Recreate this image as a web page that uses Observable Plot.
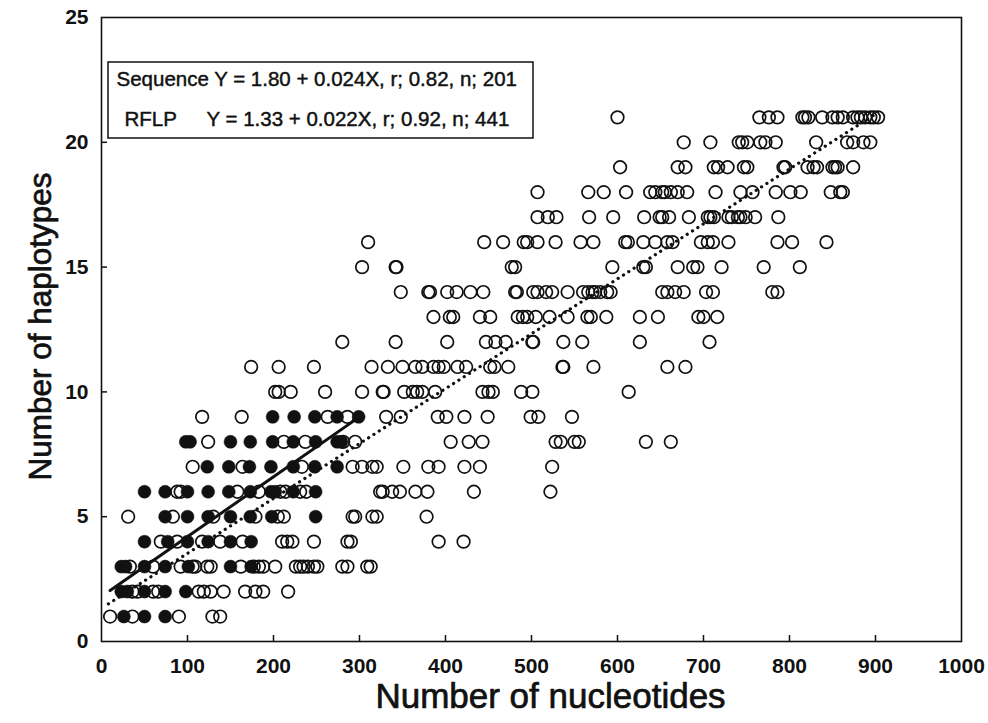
<!DOCTYPE html>
<html><head><meta charset="utf-8">
<script src="https://cdn.jsdelivr.net/npm/d3@7"></script>
<script src="https://cdn.jsdelivr.net/npm/@observablehq/plot@0.6"></script>
<style>body{margin:0;background:#fff;}</style>
</head><body><div id="chart"></div>
<script>
// Number of nucleotides for each point, grouped by number of haplotypes (index 0 => 1 haplotype)
const rflpX = [
  [10, 36, 90, 129, 138],
  [36, 42, 60, 66, 113, 119, 127, 142, 167, 179, 188, 217],
  [33, 60, 92, 106, 109, 123, 127, 162, 177, 183, 188, 202, 226, 231, 235, 240, 247, 251, 280, 286, 309, 313],
  [69, 88, 117, 138, 164, 210, 216, 222, 247, 286, 290, 392, 421],
  [31, 83, 130, 179, 205, 212, 292, 295, 315, 320, 378],
  [88, 92, 158, 183, 208, 214, 231, 238, 324, 327, 338, 347, 365, 379, 433, 522],
  [106, 164, 233, 292, 303, 315, 320, 351, 380, 392, 422, 440, 524],
  [124, 212, 237, 281, 295, 406, 427, 443, 528, 534, 550, 555, 633, 662],
  [117, 163, 263, 286, 331, 348, 391, 401, 422, 449, 499, 508, 547],
  [202, 206, 220, 260, 303, 327, 328, 352, 362, 367, 373, 388, 443, 450, 455, 488, 501, 613],
  [174, 206, 247, 314, 333, 350, 365, 373, 386, 392, 398, 414, 424, 452, 457, 473, 536, 537, 572, 658, 679],
  [280, 342, 402, 447, 458, 470, 501, 502, 537, 559, 626, 707],
  [386, 405, 409, 440, 452, 484, 490, 495, 505, 521, 542, 565, 569, 587, 626, 647, 694, 700, 716],
  [348, 380, 382, 402, 413, 429, 444, 481, 483, 502, 507, 517, 524, 542, 560, 566, 571, 574, 580, 588, 592, 652, 658, 667, 677, 703, 711, 780, 786],
  [303, 342, 343, 477, 481, 594, 630, 633, 670, 688, 693, 721, 770, 812],
  [310, 445, 467, 491, 495, 507, 528, 557, 572, 609, 612, 630, 644, 658, 664, 697, 705, 711, 729, 786, 803, 843],
  [507, 519, 529, 567, 595, 631, 649, 652, 660, 683, 705, 708, 712, 729, 733, 740, 743, 749, 760, 787],
  [507, 566, 584, 610, 638, 644, 652, 655, 662, 670, 681, 714, 743, 757, 784, 801, 813, 848, 859, 862],
  [603, 670, 679, 712, 717, 728, 747, 751, 793, 795, 821, 828, 832, 850, 853, 856, 874],
  [677, 708, 741, 745, 751, 766, 772, 784, 831, 867, 874, 886, 894],
  [600, 765, 776, 786, 815, 818, 822, 838, 850, 856, 862, 874, 879, 883, 888, 894, 898, 903]
];
const seqX = [
  [26, 50, 74],
  [23, 30, 50, 74, 98],
  [23, 28, 50, 74, 101, 150, 174],
  [50, 77, 100, 124, 150, 174],
  [74, 100, 124, 150, 173, 198, 249],
  [50, 74, 100, 124, 148, 173, 197, 202, 223, 249],
  [123, 148, 172, 197, 223, 248, 274],
  [98, 103, 150, 173, 199, 223, 249, 274, 279],
  [199, 224, 248, 274, 299]
];
const xTicks = [0, 100, 200, 300, 400, 500, 600, 700, 800, 900, 1000];
const yTicks = [0, 5, 10, 15, 20, 25];
// regression lines from the legend: intercept, slope, x range
const seqFit = {a: 1.80, b: 0.024, x0: 10, x1: 300};
const rflpFit = {a: 1.33, b: 0.022, x0: 8, x1: 900};
const legendLines = ["Sequence Y = 1.80 + 0.024X, r; 0.82, n; 201", "RFLP", "Y = 1.33 + 0.022X, r; 0.92, n; 441"];
const xTitle = "Number of nucleotides";
const yTitle = "Number of haplotypes";

const rflp = rflpX.flatMap((xs, i) => xs.map(x => ({x, y: i + 1})));
const seq = seqX.flatMap((xs, i) => xs.map(x => ({x, y: i + 1})));
const fitPts = f => [f.x0, f.x1].map(x => ({x, y: f.a + f.b * x}));

const ink = "#111";
const font = "'Liberation Sans', Arial, Helvetica, sans-serif";

const plot = Plot.plot({
  width: 988, height: 723,
  marginLeft: 101, marginRight: 27, marginTop: 17, marginBottom: 82,
  style: {fontFamily: font, color: ink, background: "#fff"},
  x: {domain: [0, 1000]},
  y: {domain: [0, 25]},
  marks: [
    Plot.axisX({ticks: xTicks.slice(1, -1), tickSize: -6, tickFormat: () => "", strokeWidth: 1.5, label: null}),
    Plot.axisX({ticks: xTicks, tickSize: 0, tickPadding: 17, tickFormat: d => String(d), fontSize: 21, fontWeight: "bold", label: null}),
    Plot.axisY({ticks: yTicks.slice(1, -1), tickSize: -6, tickFormat: () => "", strokeWidth: 1.5, label: null}),
    Plot.axisY({ticks: yTicks, tickSize: 0, tickPadding: 13, tickFormat: d => String(d), fontSize: 21, fontWeight: "bold", label: null}),
    Plot.frame({stroke: ink, strokeWidth: 1.6}),
    Plot.dot(rflp, {x: "x", y: "y", r: 6.3, stroke: ink, strokeWidth: 1.7, fill: "none"}),
    Plot.dot(seq, {x: "x", y: "y", r: 6.5, fill: ink, stroke: ink, strokeWidth: 0.5}),
    Plot.line(fitPts(seqFit), {x: "x", y: "y", stroke: ink, strokeWidth: 3}),
    Plot.line(fitPts(rflpFit), {x: "x", y: "y", stroke: ink, strokeWidth: 3.2, strokeDasharray: "0.1 6.2", strokeLinecap: "round"}),
    Plot.text([xTitle], {frameAnchor: "bottom", textAnchor: "middle", lineAnchor: "middle", dx: 19, dy: 55, fontSize: 35, fill: ink, stroke: ink, strokeWidth: 0.7}),
    Plot.text([yTitle], {frameAnchor: "left", textAnchor: "middle", lineAnchor: "middle", rotate: -90, dx: -61, dy: -3, fontSize: 31.5, fill: ink, stroke: ink, strokeWidth: 0.7}),
    Plot.text([legendLines[0]], {frameAnchor: "top-left", textAnchor: "start", lineAnchor: "middle", dx: 15, dy: 62, fontSize: 20.5, fill: ink, stroke: ink, strokeWidth: 0.45}),
    Plot.text([legendLines[1]], {frameAnchor: "top-left", textAnchor: "start", lineAnchor: "middle", dx: 23, dy: 102, fontSize: 20.5, fill: ink, stroke: ink, strokeWidth: 0.45}),
    Plot.text([legendLines[2]], {frameAnchor: "top-left", textAnchor: "start", lineAnchor: "middle", dx: 105, dy: 102, fontSize: 20.5, fill: ink, stroke: ink, strokeWidth: 0.45})
  ]
});

// legend box
d3.select(plot).insert("rect", ":first-child")
  .attr("x", 108).attr("y", 62).attr("width", 425).attr("height", 76)
  .attr("fill", "none").attr("stroke", ink).attr("stroke-width", 1.5);

document.getElementById("chart").appendChild(plot);
</script>
</body></html>
